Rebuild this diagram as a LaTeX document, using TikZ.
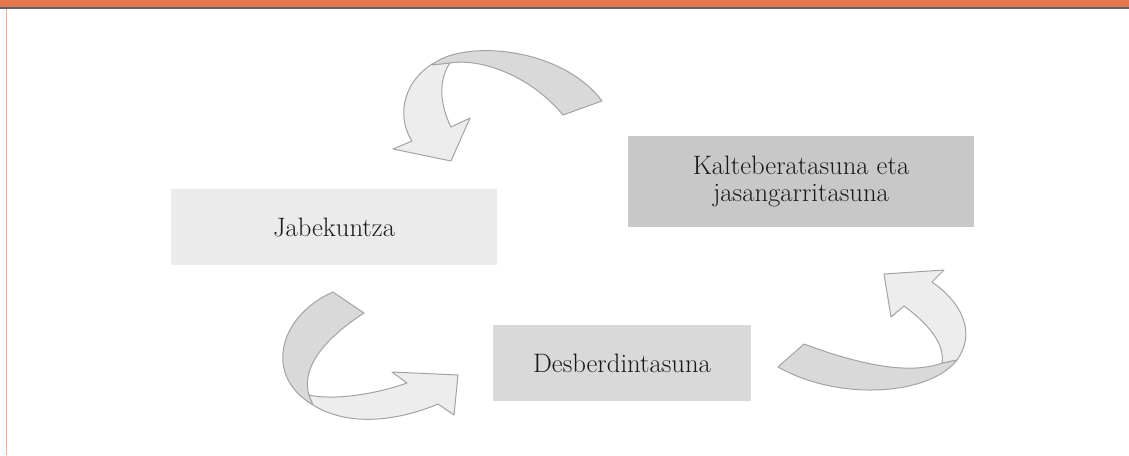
\documentclass[tikz,border=0pt]{standalone}
\usepackage{amsmath}
\usepackage{tikz}
\usetikzlibrary{positioning}

\definecolor{bandorange}{HTML}{E4774E}
\definecolor{bandgray}{HTML}{5B6466}
\definecolor{sideorange}{HTML}{F5AC88}
\definecolor{lightbox}{HTML}{EBEBEB}
\definecolor{midbox}{HTML}{D9D9D9}
\definecolor{darkbox}{HTML}{C8C8C8}
\definecolor{curlback}{HTML}{D9D9D9}
\definecolor{curlfront}{HTML}{EDEDED}
\definecolor{curlline}{HTML}{A3A3A3}

\begin{document}
\begin{tikzpicture}[x=0.75pt, y=-0.75pt,
                    box/.style={rectangle, inner sep=0pt, align=center,
                                font=\fontsize{20}{20.25}\selectfont, text=black!90},
                    back part/.style={fill=curlback, draw=curlline, line width=0.75pt, line join=round},
                    front part/.style={fill=curlfront, draw=curlline, line width=0.75pt, line join=round}]

  \useasboundingbox (0,0) rectangle (1129,455);

  % frame
  \fill[bandorange] (0,0) rectangle (1129,7);
  \fill[bandgray] (0,7) rectangle (1129,9);
  \fill[sideorange] (5.5,9) rectangle (7,455);

  % boxes
  \node[box, fill=lightbox, minimum width=244.5pt, minimum height=57pt] (jab) at (334,227) {Jabekuntza};
  \node[box, fill=darkbox, minimum width=259.5pt, minimum height=68.25pt] (kal) at (801,181.5) {Kalteberatasuna eta\\jasangarritasuna};
  \node[box, fill=midbox, minimum width=193.5pt, minimum height=57pt] (des) at (622,363) {Desberdintasuna};

  % top curl
  \draw[front part] (432,64) .. controls (400,85) and (398,120) .. (412,141)
    -- (393,149) -- (451,161) -- (470,118) -- (451,127)
    .. controls (440,105) and (438,80) .. (450,63) -- cycle;
  \draw[back part] (432,65) .. controls (460,40) and (560,45) .. (602,101)
    -- (563,115) .. controls (530,75) and (480,58) .. (450,63) -- cycle;

  % bottom left curl
  \draw[back part] (333,292) .. controls (280,315) and (262,375) .. (313,405)
    -- (309,395) .. controls (300,365) and (330,335) .. (364,313) -- cycle;
  \draw[front part] (313,405) .. controls (350,428) and (400,420) .. (438,404)
    -- (454,415) -- (458,375) -- (392,372) -- (407,383)
    .. controls (370,396) and (330,400) .. (309,395) -- cycle;

  % bottom right curl
  \draw[back part] (804,344) .. controls (860,365) and (910,375) .. (942,363)
    -- (957,360) .. controls (930,395) and (840,402) .. (778,367) -- cycle;
  \draw[front part] (957,360) .. controls (975,335) and (965,305) .. (932,282)
    -- (944,270) -- (884,274) -- (891,317) -- (904,306)
    .. controls (930,325) and (945,345) .. (942,363) -- cycle;
\end{tikzpicture}
\end{document}
